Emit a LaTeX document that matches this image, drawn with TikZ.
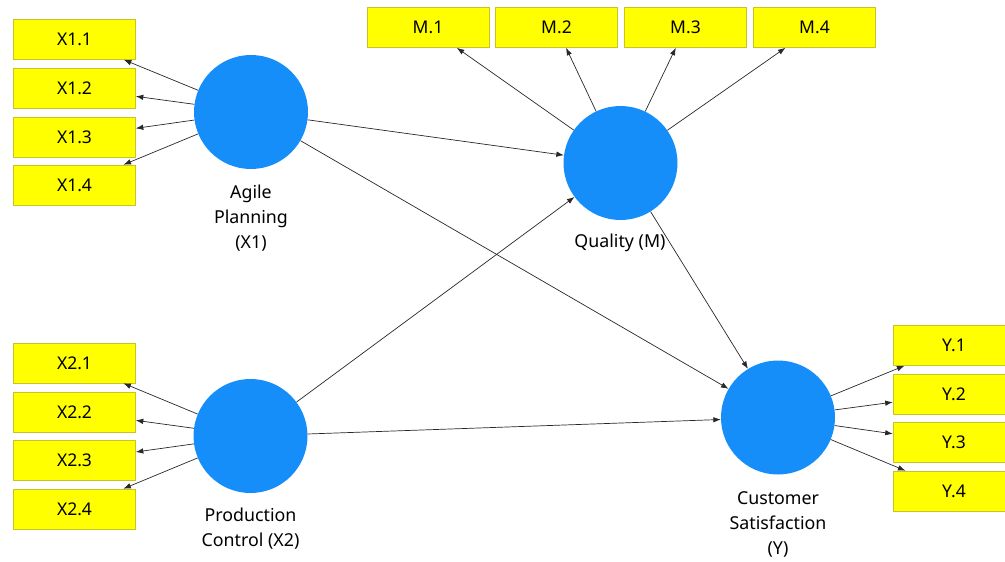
\documentclass[tikz,border=0pt]{standalone}
\usepackage{fontspec}
\setmainfont{Noto Sans}
\usetikzlibrary{arrows.meta}
\definecolor{lvblue}{RGB}{22,142,250}
\definecolor{boxyellow}{RGB}{255,255,0}
\definecolor{boxedge}{RGB}{200,196,40}
\definecolor{linegray}{RGB}{40,40,40}
\tikzset{
  ind/.style={rectangle, fill=boxyellow, draw=boxedge, line width=0.6pt,
    minimum width=122pt, minimum height=40pt, inner sep=0pt,
    font=\fontsize{17.5}{20}\selectfont},
  lv/.style={circle, fill=lvblue, draw=none, minimum size=114pt, inner sep=0pt},
  lvlabel/.style={align=center, inner sep=0pt, font=\fontsize{17.8}{25}\selectfont},
  conn/.style={draw=linegray, line width=0.7pt, -{Latex[length=7.5pt,width=5.5pt]}}
}
\begin{document}
\begin{tikzpicture}[x=1pt,y=-1pt]
\clip (0,0) rectangle (1005,562);
\useasboundingbox (0,0) rectangle (1005,562);
% latent variables
\node[lv] (X1) at (251,112) {};
\node[lv] (X2) at (250.5,436) {};
\node[lv] (M) at (620.5,163) {};
\node[lv] (Y) at (778,417.5) {};
% labels
\node[lvlabel] (lX1) at (251,218) {Agile\\Planning\\(X1)};
\node[lvlabel] (lX2) at (250.5,529) {Production\\Control (X2)};
\node[lvlabel] (lM) at (620,243) {Quality (M)};
\node[lvlabel] (lY) at (778,524) {Customer\\Satisfaction\\(Y)};
% indicators
\node[ind] (x11) at (74.5,39.5) {X1.1};
\node[ind] (x12) at (74.5,88) {X1.2};
\node[ind] (x13) at (74.5,137) {X1.3};
\node[ind] (x14) at (74.5,185) {X1.4};
\node[ind] (x21) at (74.5,363) {X2.1};
\node[ind] (x22) at (74.5,412) {X2.2};
\node[ind] (x23) at (74.5,460.5) {X2.3};
\node[ind] (x24) at (74.5,509) {X2.4};
\node[ind] (m1) at (428,27.5) {M.1};
\node[ind] (m2) at (556.5,27.5) {M.2};
\node[ind] (m3) at (685.5,27.5) {M.3};
\node[ind] (m4) at (814.5,27.5) {M.4};
\node[ind] (y1) at (954,345.5) {Y.1};
\node[ind] (y2) at (954,394) {Y.2};
\node[ind] (y3) at (954,442.5) {Y.3};
\node[ind] (y4) at (954,491) {Y.4};
% outer loadings
\foreach \t in {x11,x12,x13,x14} \draw[conn] (X1) -- (\t);
\foreach \t in {x21,x22,x23,x24} \draw[conn] (X2) -- (\t);
\foreach \t in {m1,m2,m3,m4} \draw[conn] (M) -- (\t);
\foreach \t in {y1,y2,y3,y4} \draw[conn] (Y) -- (\t);
% structural paths
\draw[conn] (X1) -- (M);
\draw[conn] (X1) -- (Y);
\draw[conn] (X2) -- (M);
\draw[conn] (X2) -- (Y);
\draw[conn] (M) -- (Y);
\end{tikzpicture}
\end{document}
